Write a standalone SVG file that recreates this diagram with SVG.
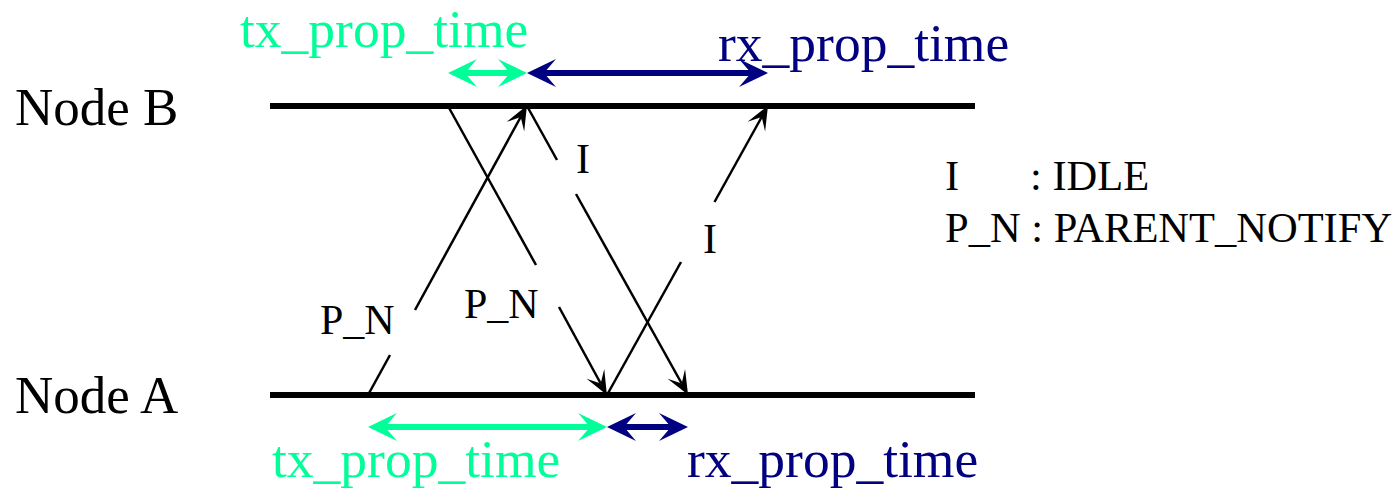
<svg xmlns="http://www.w3.org/2000/svg" width="1397" height="489" viewBox="0 0 1397 489">
<style>
text{font-family:"Liberation Serif","Times New Roman",serif;}
.lbl{font-size:53px;fill:#000;}
.msg{font-size:42px;fill:#000;}
.leg{font-size:42.5px;fill:#000;}
.tx{font-size:53.5px;fill:#00FF99;}
.rx{font-size:53.5px;fill:#000080;}
.node{stroke:#000;stroke-width:6;fill:none;}
.m{stroke:#000;stroke-width:2.5;fill:none;}
.gA{stroke:#00FF99;stroke-width:6;fill:none;marker-start:url(#hg);marker-end:url(#hg);}
.bA{stroke:#000080;stroke-width:6;fill:none;marker-start:url(#hb);marker-end:url(#hb);}
</style>
<defs>
<marker id="hg" markerUnits="userSpaceOnUse" markerWidth="40" markerHeight="40" refX="0" refY="0" viewBox="-20 -20 40 40" orient="auto-start-reverse" overflow="visible"><path d="M17,0 L-12,-14 L0,0 L-12,14 Z" fill="#00FF99"/></marker>
<marker id="hb" markerUnits="userSpaceOnUse" markerWidth="40" markerHeight="40" refX="0" refY="0" viewBox="-20 -20 40 40" orient="auto-start-reverse" overflow="visible"><path d="M17,0 L-12,-14 L0,0 L-12,14 Z" fill="#000080"/></marker>
<marker id="hk" markerUnits="userSpaceOnUse" markerWidth="40" markerHeight="40" refX="0" refY="0" viewBox="-20 -20 40 40" orient="auto" overflow="visible"><path d="M13,0 L-11,-10 L0,0 L-11,10 Z" fill="#000"/></marker>
</defs>
<g id="nodeB"><text class="lbl" x="15" y="125">Node B</text><line class="node" x1="270" y1="106" x2="975" y2="106"/></g>
<g id="nodeA"><text class="lbl" x="15" y="413">Node A</text><line class="node" x1="270" y1="395" x2="975" y2="395"/></g>
<g id="connectors">
<line class="m" x1="368" y1="395" x2="390" y2="355"/>
<line class="m" x1="415" y1="310" x2="520.7" y2="117" marker-end="url(#hk)"/>
<line class="m" x1="448" y1="106" x2="536" y2="265"/>
<line class="m" x1="559" y1="307" x2="600.7" y2="383.5" marker-end="url(#hk)"/>
<line class="m" x1="527" y1="106" x2="557" y2="160"/>
<line class="m" x1="576" y1="194" x2="681.7" y2="383.5" marker-end="url(#hk)"/>
<line class="m" x1="607" y1="395" x2="681" y2="262"/>
<line class="m" x1="714.5" y1="202" x2="761.7" y2="117" marker-end="url(#hk)"/>
<line class="gA" x1="465" y1="73" x2="510" y2="73"/>
<line class="bA" x1="544" y1="73" x2="751" y2="73"/>
<line class="gA" x1="385" y1="427" x2="590" y2="427"/>
<line class="bA" x1="624" y1="427" x2="671" y2="427"/>
</g>
<g id="labels">
<text class="msg" x="320" y="334">P_N</text>
<text class="msg" x="464" y="318">P_N</text>
<text class="msg" x="576" y="173">I</text>
<text class="msg" x="703" y="253">I</text>
<text class="tx" x="240" y="47">tx_prop_time</text>
<text class="rx" x="718" y="61">rx_prop_time</text>
<text class="tx" x="272" y="477">tx_prop_time</text>
<text class="rx" x="687" y="477">rx_prop_time</text>
</g>
<g id="legend">
<text class="leg" x="945" y="190">I</text>
<text class="leg" x="1030" y="190">: IDLE</text>
<text class="leg" x="945" y="242">P_N : PARENT_NOTIFY</text>
</g>
</svg>
